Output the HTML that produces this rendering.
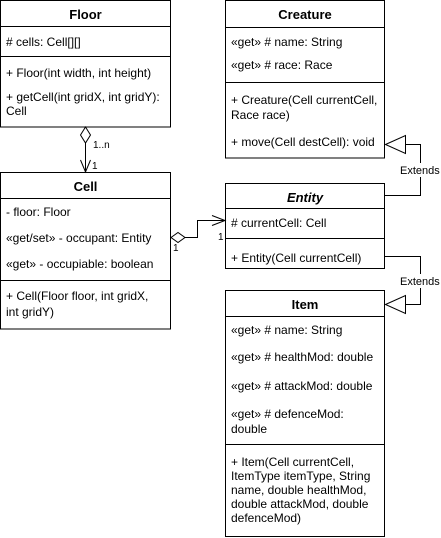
<!DOCTYPE html>
<html><head><meta charset="utf-8"><style>
html,body{margin:0;padding:0;background:#fff;}
svg{display:block;}
text{font-family:"Liberation Sans",Arial,sans-serif;font-size:12px;fill:#000;}
.h{font-weight:bold;font-size:13px;}
</style></head><body>
<svg width="441" height="538" viewBox="0 0 441 538" xmlns="http://www.w3.org/2000/svg">
<g fill="#fff" stroke="#000" stroke-width="1">
<!-- Floor -->
<rect x="0.5" y="0.5" width="170" height="126.5"/>
<line x1="0.5" y1="26.5" x2="170.5" y2="26.5"/>
<line x1="0.5" y1="56.5" x2="170.5" y2="56.5"/>
<!-- Cell -->
<rect x="0.5" y="172.5" width="170" height="156.5"/>
<line x1="0.5" y1="198.5" x2="170.5" y2="198.5"/>
<line x1="0.5" y1="280.5" x2="170.5" y2="280.5"/>
<!-- Creature -->
<rect x="225.5" y="0.5" width="159" height="157.5"/>
<line x1="225.5" y1="27.5" x2="384.5" y2="27.5"/>
<line x1="225.5" y1="82.5" x2="384.5" y2="82.5"/>
<!-- Entity -->
<rect x="225.5" y="183.5" width="159" height="85"/>
<line x1="225.5" y1="208.5" x2="384.5" y2="208.5"/>
<line x1="225.5" y1="238.5" x2="384.5" y2="238.5"/>
<!-- Item -->
<rect x="225.5" y="290.5" width="159" height="246"/>
<line x1="225.5" y1="316.5" x2="384.5" y2="316.5"/>
<line x1="225.5" y1="444.5" x2="384.5" y2="444.5"/>
</g>
<g fill="none" stroke="#000" stroke-width="1">
<!-- Floor-Cell -->
<path d="M85.5 127 L80.5 135 L85.5 143 L90.5 135 Z" fill="#fff"/>
<line x1="85.5" y1="143" x2="85.5" y2="172"/>
<path d="M80.5 160 L85.5 172 L90.5 160"/>
<!-- Cell-Entity -->
<path d="M171 237.5 L178 232.5 L185 237.5 L178 242.5 Z" fill="#fff"/>
<path d="M185 237.5 H197.5 V220.5 H225"/>
<path d="M212 215.5 L225 220.5 L212 225.5"/>
<!-- Extends 1 -->
<path d="M385 195.5 H420.5 V144.5 H405"/>
<path d="M385.5 144.5 L405.5 135.5 L405.5 153.5 Z" fill="#fff"/>
<!-- Extends 2 -->
<path d="M385 256.5 H420.5 V304.5 H405"/>
<path d="M385.5 304.5 L405.5 295.5 L405.5 313.5 Z" fill="#fff"/>
</g>
<rect x="399" y="163" width="42" height="14" fill="#fff"/>
<rect x="399" y="274" width="42" height="14" fill="#fff"/>
<text x="400" y="174" style="font-size:11px">Extends</text>
<text x="400" y="285" style="font-size:11px">Extends</text>
<text x="93" y="148" style="font-size:10px">1..n</text>
<text x="92" y="169" style="font-size:10px">1</text>
<text x="173" y="251" style="font-size:10px">1</text>
<text x="218" y="240" style="font-size:10px">1</text>

<text class="h" x="85.5" y="19" text-anchor="middle">Floor</text>
<text x="6" y="46"># cells: Cell[][]</text>
<text x="6" y="77">+ Floor(int width, int height)</text>
<text x="6" y="101">+ getCell(int gridX, int gridY):</text>
<text x="6" y="115">Cell</text>

<text class="h" x="85.5" y="191" text-anchor="middle">Cell</text>
<text x="6" y="216">- floor: Floor</text>
<text x="6" y="242">«get/set» - occupant: Entity</text>
<text x="6" y="268">«get» - occupiable: boolean</text>
<text x="6" y="300">+ Cell(Floor floor, int gridX,</text>
<text x="6" y="316">int gridY)</text>

<text class="h" x="305" y="19" text-anchor="middle">Creature</text>
<text x="231" y="46">«get» # name: String</text>
<text x="231" y="69">«get» # race: Race</text>
<text x="231" y="104">+ Creature(Cell currentCell,</text>
<text x="231" y="119">Race race)</text>
<text x="231" y="146">+ move(Cell destCell): void</text>

<text class="h" x="305" y="202" text-anchor="middle" font-style="italic">Entity</text>
<text x="231" y="227"># currentCell: Cell</text>
<text x="231" y="262">+ Entity(Cell currentCell)</text>

<text class="h" x="305" y="309" text-anchor="middle">Item</text>
<text x="231" y="334">«get» # name: String</text>
<text x="231" y="361">«get» # healthMod: double</text>
<text x="231" y="390">«get» # attackMod: double</text>
<text x="231" y="418">«get» # defenceMod:</text>
<text x="231" y="433">double</text>
<text x="231" y="466">+ Item(Cell currentCell,</text>
<text x="231" y="480">ItemType itemType, String</text>
<text x="231" y="494">name, double healthMod,</text>
<text x="231" y="508">double attackMod, double</text>
<text x="231" y="522">defenceMod)</text>
</svg>
</body></html>
